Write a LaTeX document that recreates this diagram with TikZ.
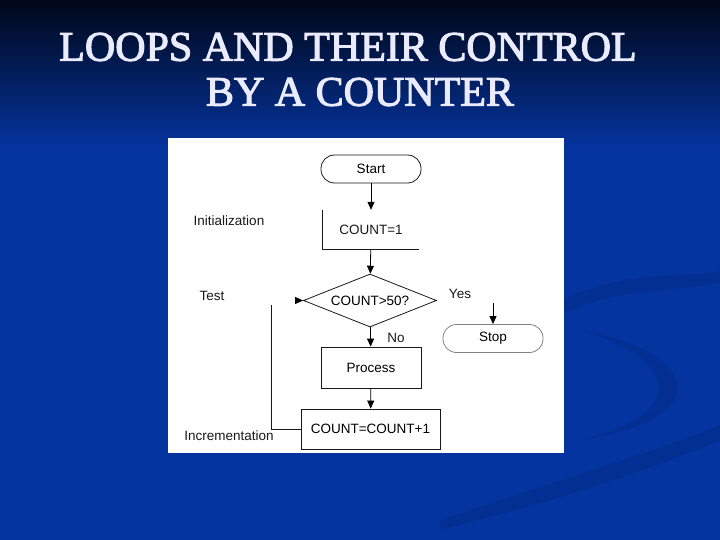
\documentclass[tikz,border=0pt]{standalone}
\usepackage{fontspec}
\setmainfont{Liberation Serif}
\newfontfamily\titlefont[FakeBold=2.5]{Liberation Serif}
\newfontfamily\chartfont{Liberation Sans}
\usetikzlibrary{shapes.geometric,arrows.meta,positioning}

\definecolor{slideblue}{RGB}{4,52,160}
\definecolor{slidedark}{RGB}{1,8,24}
\definecolor{swoosh}{RGB}{2,40,125}
\definecolor{inkgray}{RGB}{25,25,25}

\tikzset{
  terminal/.style={draw=inkgray, line width=0.8pt, rounded corners=13.5pt, minimum width=100pt,
    minimum height=28pt, inner sep=0pt, font=\chartfont\fontsize{13.5}{14}\selectfont},
  process/.style={draw=inkgray, line width=0.8pt, minimum width=100pt, minimum height=41pt,
    inner sep=0pt, font=\chartfont\fontsize{13.5}{14}\selectfont},
  decision/.style={draw=inkgray, line width=0.8pt, diamond, aspect=2.5, minimum width=133pt,
    minimum height=53pt, inner sep=0pt, font=\chartfont\fontsize{13.5}{14}\selectfont},
  sidelabel/.style={inner sep=0pt, text=inkgray, font=\chartfont\fontsize{13.5}{14}\selectfont},
  flow/.style={draw=black, line width=0.8pt, -{Triangle[length=8pt,width=7pt]}},
  titletext/.style={text=white!92!blue, font=\titlefont\fontsize{42}{46}\selectfont, inner sep=0pt}
}

\begin{document}
\begin{tikzpicture}[x=1pt, y=-1pt]
    \useasboundingbox (0,0) rectangle (720,540);
    % background
    \fill[slideblue] (0,0) rectangle (720,540);
    \shade[top color=slidedark, bottom color=slideblue] (0,0) rectangle (720,150);
    \fill[swoosh, opacity=0.35] (560,300) .. controls (640,265) and (700,280) .. (720,270)
      -- (720,282) .. controls (690,292) and (620,285) .. (560,315) -- cycle;
    \fill[swoosh, opacity=0.35] (580,330) .. controls (700,350) and (720,420) .. (580,440)
      .. controls (690,415) and (680,360) .. (580,330) -- cycle;
    \fill[swoosh, opacity=0.35] (440,520) .. controls (560,480) and (660,450) .. (720,425)
      -- (720,440) .. controls (650,470) and (560,500) .. (440,530) -- cycle;

    % title
    \node[titletext] (title1) at (348,47) {LOOPS AND THEIR CONTROL};
    \node[titletext] (title2) at (360,92) {BY A COUNTER};

    % white panel
    \fill[white] (168,138) rectangle (564,453);

    % flowchart
    \node[terminal] (start) at (371,169) {Start};
    \node[sidelabel, minimum width=96pt, minimum height=39pt] (init) at (371,229.5) {COUNT=1};
    \node[decision] (test) at (370,300.5) {COUNT>50?};
    \node[process] (proc) at (371,367.5) {Process};
    \node[process, minimum width=139pt, minimum height=40pt] (incr) at (370.5,429) {COUNT=COUNT+1};
    \node[terminal, draw=gray] (stop) at (493,338.5) {Stop};

    \node[sidelabel] (initlbl) at (229,221) {Initialization};
    \node[sidelabel] (testlbl) at (212,296) {Test};
    \node[sidelabel] (yeslbl) at (460,294) {Yes};
    \node[sidelabel] (nolbl) at (396,338) {No};
    \node[sidelabel] (incrlbl) at (229,436) {Incrementation};

    \coordinate (yesin) at (493,303);
    \coordinate (looptop) at (271,305);
    \coordinate (loopin) at (297,300.5);

    \draw[inkgray, line width=0.8pt] (init.north west) -- (init.south west) -- (init.south east);
    \draw[flow] (start) -- (init);
    \draw[flow] (init) -- (test);
    \draw[flow] (test) -- (proc);
    \draw[flow] (proc) -- (incr);
    \draw[flow] (yesin) -- (stop);
    \draw[inkgray, line width=0.8pt] (incr.west) -| (looptop);
    \draw[flow] (loopin) -- (test.west);
\end{tikzpicture}
\end{document}
